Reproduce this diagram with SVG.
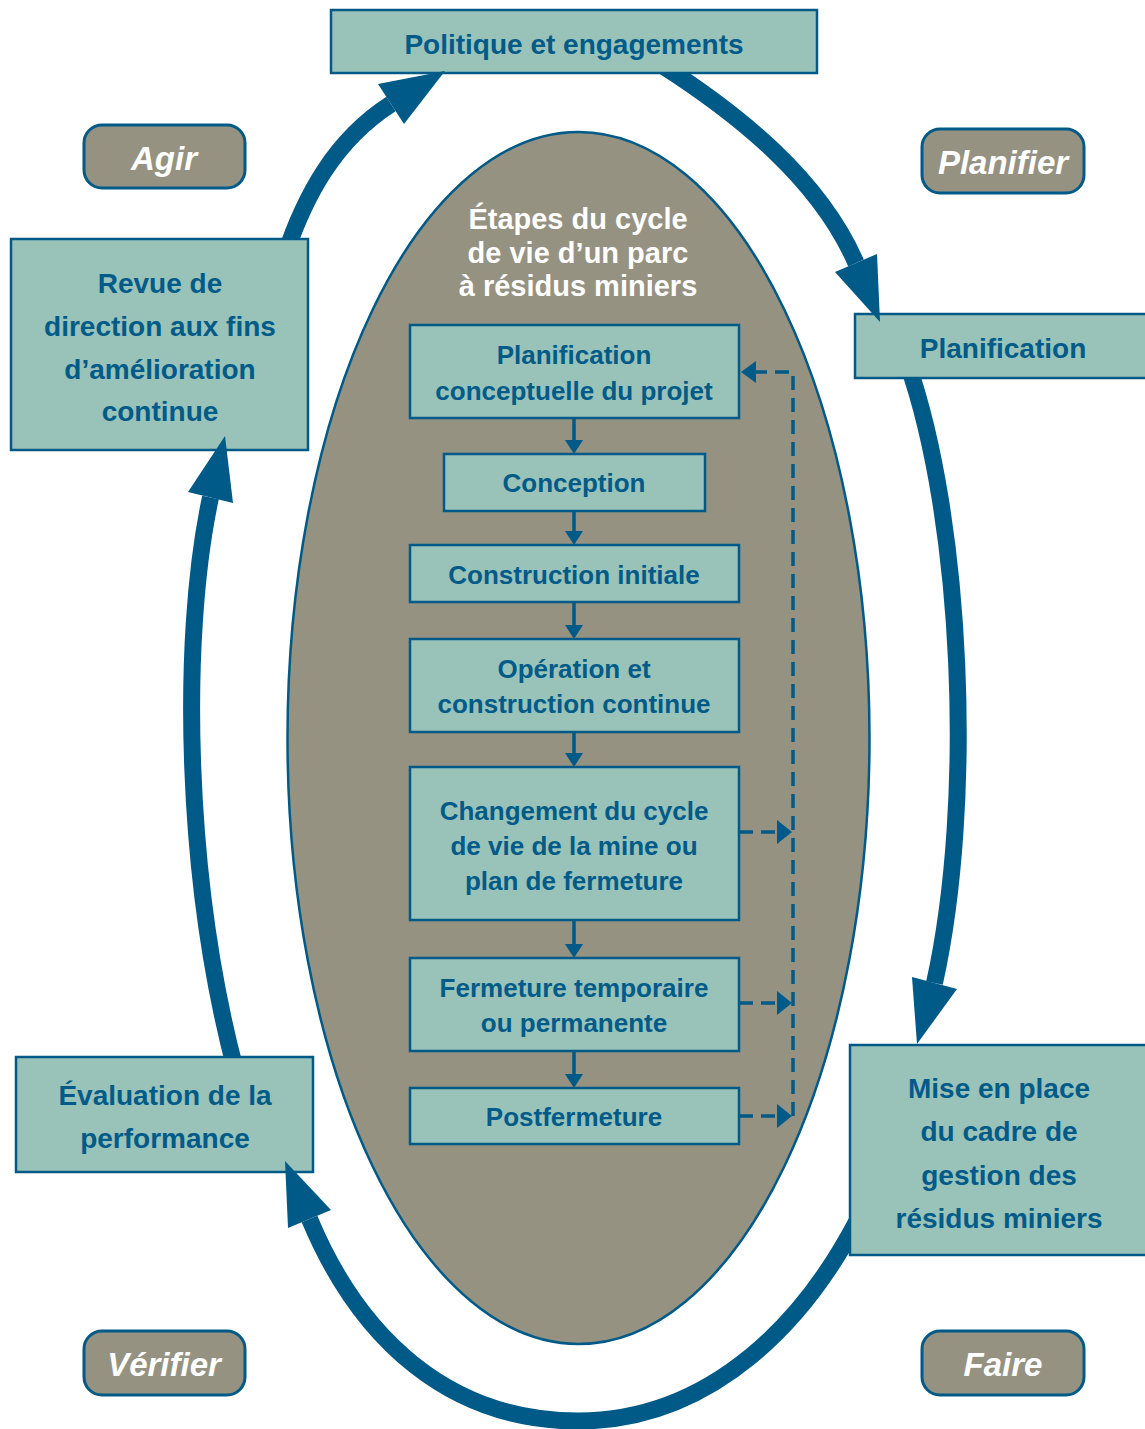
<svg xmlns="http://www.w3.org/2000/svg" width="1145" height="1429" viewBox="0 0 1145 1429">
<style>
.box{fill:#99c2b9;stroke:#005a87;stroke-width:2.5}
.pill{fill:#959282;stroke:#005a87;stroke-width:3}
.t{font-family:"Liberation Sans",Arial,sans-serif;font-weight:bold;fill:#005b88;text-anchor:middle}
.big{font-size:28px}
.small{font-size:26px}
.pt{font-family:"Liberation Sans",Arial,sans-serif;font-weight:bold;font-style:italic;font-size:33px;fill:#ffffff;text-anchor:middle}
.title{font-family:"Liberation Sans",Arial,sans-serif;font-weight:bold;font-size:29px;fill:#ffffff;text-anchor:middle}
.shaft{fill:none;stroke:#005a87;stroke-width:17;clip-path:url(#outside)}
.head{fill:#005a87}
.step{stroke:#005a87;stroke-width:3.5;fill:none}
.dash{stroke:#005a87;stroke-width:3.5;fill:none;stroke-dasharray:14 8}
</style>
<defs>
<clipPath id="outside">
<path clip-rule="evenodd" d="M0 0H1145V1429H0Z M331 10H817V73H331Z M855 314H1145V378H855Z M850 1045H1145V1255H850Z M16 1057H313V1172H16Z M11 239H308V450H11Z"/>
</clipPath>
</defs>
<rect width="1145" height="1429" fill="#ffffff"/>

<g id="ellipse">
<ellipse cx="578.5" cy="738" rx="291" ry="606" fill="#959282" stroke="#005a87" stroke-width="2.5"/>
<text class="title" x="578" y="229">Étapes du cycle</text>
<text class="title" x="578" y="263">de vie d’un parc</text>
<text class="title" x="578" y="296">à résidus miniers</text>
</g>

<g id="politique"><rect class="box" x="331" y="10" width="486" height="63"/><text class="t big" x="574" y="54">Politique et engagements</text></g>
<g id="planification"><rect class="box" x="855" y="314" width="292" height="64"/><text class="t big" x="1003" y="358">Planification</text></g>
<g id="mise"><rect class="box" x="850" y="1045" width="297" height="210"/>
<text class="t big" x="999" y="1098">Mise en place</text>
<text class="t big" x="999" y="1141">du cadre de</text>
<text class="t big" x="999" y="1185">gestion des</text>
<text class="t big" x="999" y="1228">résidus miniers</text></g>
<g id="evaluation"><rect class="box" x="16" y="1057" width="297" height="115"/>
<text class="t big" x="165" y="1105">Évaluation de la</text>
<text class="t big" x="165" y="1148">performance</text></g>
<g id="revue"><rect class="box" x="11" y="239" width="297" height="211"/>
<text class="t big" x="160" y="293">Revue de</text>
<text class="t big" x="160" y="336">direction aux fins</text>
<text class="t big" x="160" y="379">d’amélioration</text>
<text class="t big" x="160" y="421">continue</text></g>

<g id="agir"><rect class="pill" x="84" y="125" width="161" height="63" rx="18"/><text class="pt" x="164" y="170">Agir</text></g>
<g id="planifier"><rect class="pill" x="922" y="129" width="162" height="64" rx="18"/><text class="pt" x="1003" y="174">Planifier</text></g>
<g id="verifier"><rect class="pill" x="84" y="1331" width="161" height="64" rx="18"/><text class="pt" x="164" y="1376">Vérifier</text></g>
<g id="faire"><rect class="pill" x="922" y="1331" width="162" height="64" rx="18"/><text class="pt" x="1003" y="1376">Faire</text></g>

<g id="s1"><rect class="box" x="410" y="325" width="329" height="93"/><text class="t small" x="574" y="364">Planification</text><text class="t small" x="574" y="400">conceptuelle du projet</text></g>
<g id="s2"><rect class="box" x="444" y="454" width="261" height="57"/><text class="t small" x="574" y="492">Conception</text></g>
<g id="s3"><rect class="box" x="410" y="545" width="329" height="57"/><text class="t small" x="574" y="584">Construction initiale</text></g>
<g id="s4"><rect class="box" x="410" y="639" width="329" height="93"/><text class="t small" x="574" y="678">Opération et</text><text class="t small" x="574" y="713">construction continue</text></g>
<g id="s5"><rect class="box" x="410" y="767" width="329" height="153"/><text class="t small" x="574" y="820">Changement du cycle</text><text class="t small" x="574" y="855">de vie de la mine ou</text><text class="t small" x="574" y="890">plan de fermeture</text></g>
<g id="s6"><rect class="box" x="410" y="958" width="329" height="93"/><text class="t small" x="574" y="997">Fermeture temporaire</text><text class="t small" x="574" y="1032">ou permanente</text></g>
<g id="s7"><rect class="box" x="410" y="1088" width="329" height="56"/><text class="t small" x="574" y="1126">Postfermeture</text></g>

<g id="connectors">
<path class="shaft" d="M284 258 C305 195 335 140 391 104"/>
<polygon class="head" points="445,71 378,84 404,124"/>
<path class="shaft" d="M660 64 C740 115 820 180 856 263"/>
<polygon class="head" points="880,322 835,272 877,254"/>
<path class="shaft" d="M908 365 C962 520 975 800 934.5 983"/>
<polygon class="head" points="917,1044 912,977 957,989"/>
<path class="shaft" d="M885 1160 C815 1335 700 1421 578 1421 C450 1421 360 1340 309.5 1219"/>
<polygon class="head" points="285,1161 288,1228 331,1210"/>
<path class="shaft" d="M236 1072 C185 880 180 640 210.5 497.5"/>
<polygon class="head" points="225,436 188,492 233,503"/>

<path class="step" d="M574 418V442 M574 511V533 M574 602V627 M574 732V755 M574 920V946 M574 1051V1076"/>
<polygon class="head" points="565,440 583,440 574,454"/>
<polygon class="head" points="565,531 583,531 574,545"/>
<polygon class="head" points="565,625 583,625 574,639"/>
<polygon class="head" points="565,753 583,753 574,767"/>
<polygon class="head" points="565,944 583,944 574,958"/>
<polygon class="head" points="565,1074 583,1074 574,1088"/>

<path class="dash" d="M793 1116V372H755"/>
<polygon class="head" points="741,372 756,361 756,383"/>
<path class="dash" stroke-dasharray="17 8" d="M739 832H779"/>
<polygon class="head" points="792,832 777,820 777,844"/>
<path class="dash" stroke-dasharray="17 8" d="M739 1003H779"/>
<polygon class="head" points="792,1003 777,991 777,1015"/>
<path class="dash" stroke-dasharray="17 8" d="M739 1116H779"/>
<polygon class="head" points="792,1116 777,1104 777,1128"/>
</g>
</svg>
